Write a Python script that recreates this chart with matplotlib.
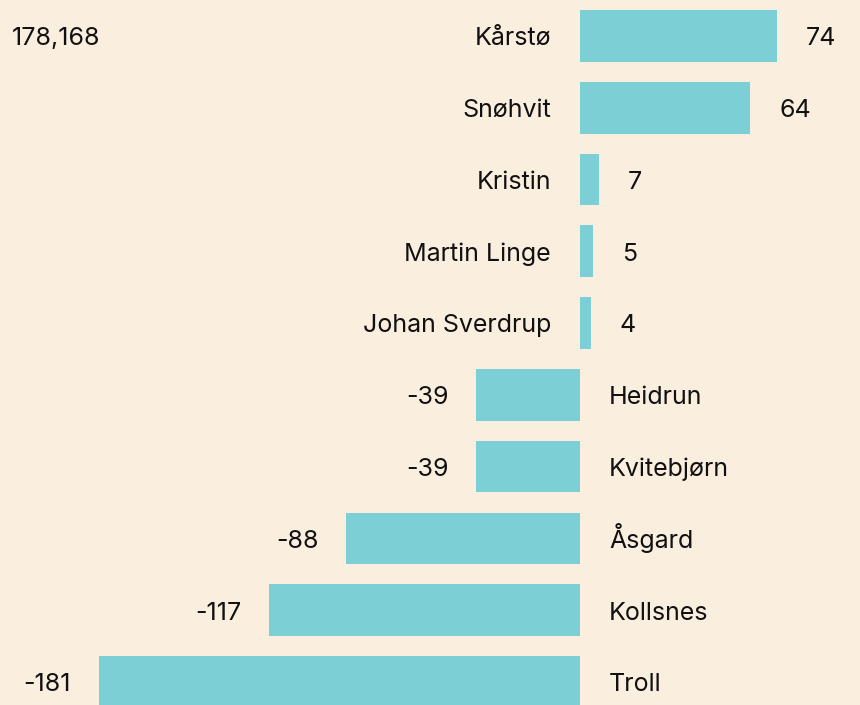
import matplotlib.pyplot as plt

names = ["Kårstø", "Snøhvit", "Kristin", "Martin Linge", "Johan Sverdrup",
         "Heidrun", "Kvitebjørn", "Åsgard", "Kollsnes", "Troll"]
values = [74, 64, 7, 5, 4, -39, -39, -88, -117, -181]
total_label = "178,168"

bg = "#faeedf"
bar_color = "#7bcfd5"
px = 2.66  # pixels per unit

fig = plt.figure(figsize=(8.6, 7.05), dpi=100, facecolor=bg)
ax = fig.add_axes([0, 0, 1, 1])
ax.set_facecolor(bg)

ypos = list(range(len(names)))
ax.barh(ypos, values, height=0.72, color=bar_color)

font = dict(fontsize=18, family=["Inter", "DejaVu Sans"], color="#111111")
gap = 29 / px
dy = 0.13  # baseline sits a little below bar centre
for y, n, v in zip(ypos, names, values):
    if v >= 0:
        ax.text(-gap, y + dy, n, ha="right", va="baseline", **font)
        ax.text(v + gap, y + dy, str(v), ha="left", va="baseline", **font)
    else:
        ax.text(gap, y + dy, n, ha="left", va="baseline", **font)
        ax.text(v - gap * 0.95, y + dy, str(v), ha="right", va="baseline", **font)

ax.text(-568 / px, dy, total_label, ha="left", va="baseline", **font)

ax.set_xlim(-580 / px, 280 / px)
ax.set_ylim(9.32, -0.50)
ax.axis("off")

fig.savefig("out.png", dpi=100, facecolor=bg)
